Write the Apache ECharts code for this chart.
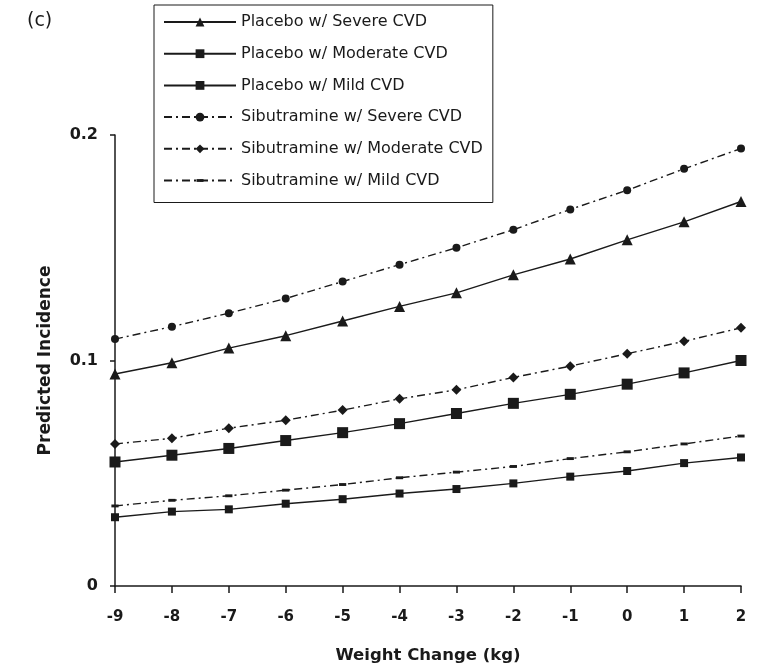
<!DOCTYPE html>
<html>
<head>
<meta charset="utf-8">
<script src="https://cdn.jsdelivr.net/npm/echarts@6/dist/echarts.min.js"></script>
<style>
  html, body { margin: 0; padding: 0; background: #fff; }
  #chart { width: 766px; height: 669px; }
</style>
</head>
<body>
<div id="chart"></div>
<script>
// weight change (kg)
const weightChange = [-9, -8, -7, -6, -5, -4, -3, -2, -1, 0, 1, 2]
const yTicks = [0, 0.1, 0.2]

const placeboSevere = [0.094, 0.099, 0.1055, 0.111, 0.1175, 0.124, 0.130, 0.138, 0.145, 0.1535, 0.1615, 0.1705]
const placeboModerate = [0.055, 0.058, 0.061, 0.0645, 0.068, 0.072, 0.0765, 0.081, 0.085, 0.0895, 0.0945, 0.100]
const placeboMild = [0.0305, 0.033, 0.034, 0.0365, 0.0385, 0.041, 0.043, 0.0455, 0.0485, 0.051, 0.0545, 0.057]
const sibSevere = [0.1095, 0.115, 0.121, 0.1275, 0.135, 0.1425, 0.150, 0.158, 0.167, 0.1755, 0.185, 0.194]
const sibModerate = [0.063, 0.0655, 0.070, 0.0735, 0.078, 0.083, 0.087, 0.0925, 0.0975, 0.103, 0.1085, 0.1145]
const sibMild = [0.0355, 0.038, 0.040, 0.0425, 0.045, 0.048, 0.0505, 0.053, 0.0565, 0.0595, 0.063, 0.0665]

const ink = '#1a1a1a'
const dashDot = [8, 4, 2, 4]
const font = 'DejaVu Sans'
// small dash marker, padded inside a square box so the legend keeps it small too
const smallDash = 'path://M0,0M10,10M1,3.4L9,3.4L9,6.6L1,6.6Z'

function pairs(vals) {
  return weightChange.map((x, i) => [x, vals[i]])
}

function mkSeries(name, vals, symbol, size, dashed) {
  return {
    name: name,
    type: 'line',
    data: pairs(vals),
    symbol: symbol,
    symbolSize: size,
    showSymbol: true,
    itemStyle: { color: ink },
    lineStyle: { color: ink, width: 1.4, type: dashed ? dashDot : 'solid' },
    animation: false
  }
}

const chart = echarts.init(document.getElementById('chart'))
chart.setOption({
  backgroundColor: '#fff',
  animation: false,
  textStyle: { fontFamily: font },
  graphic: [
    { type: 'text', left: 27, top: 12, style: { text: '(c)', font: '19px "DejaVu Sans"', fill: ink } }
  ],
  legend: {
    orient: 'vertical',
    left: 154,
    top: 5,
    padding: [9, 10, 14, 9],
    itemWidth: 72,
    itemHeight: 11,
    itemGap: 15.7,
    borderColor: ink,
    borderWidth: 1,
    textStyle: { fontSize: 16, lineHeight: 16, color: ink, fontFamily: font },
    data: ['Placebo w/ Severe CVD', 'Placebo w/ Moderate CVD', 'Placebo w/ Mild CVD',
      'Sibutramine w/ Severe CVD', 'Sibutramine w/ Moderate CVD', 'Sibutramine w/ Mild CVD']
  },
  grid: { left: 115, right: 25, top: 135, bottom: 79, containLabel: false },
  xAxis: {
    type: 'value',
    min: -9,
    max: 2,
    interval: 1,
    name: 'Weight Change (kg)',
    nameLocation: 'middle',
    nameGap: 61,
    nameTextStyle: { fontSize: 16.5, fontWeight: 'bold', color: ink, fontFamily: font },
    axisLine: { onZero: false, lineStyle: { color: ink, width: 1.5 } },
    axisTick: { length: 7, lineStyle: { color: ink, width: 1.5 } },
    axisLabel: { margin: 24, fontSize: 15, fontWeight: 'bold', color: ink, fontFamily: font },
    splitLine: { show: false }
  },
  yAxis: {
    type: 'value',
    min: yTicks[0],
    max: yTicks[yTicks.length - 1],
    interval: 0.1,
    name: 'Predicted Incidence',
    nameLocation: 'middle',
    nameGap: 61,
    nameTextStyle: { fontSize: 17, fontWeight: 'bold', color: ink, fontFamily: font },
    axisLine: { show: true, onZero: false, lineStyle: { color: ink, width: 1.5 } },
    axisTick: { show: true, length: 5, lineStyle: { color: ink, width: 1.5 } },
    axisLabel: { margin: 17, fontSize: 16, fontWeight: 'bold', color: ink, fontFamily: font },
    splitLine: { show: false }
  },
  series: [
    mkSeries('Placebo w/ Severe CVD', placeboSevere, 'triangle', 11, false),
    mkSeries('Placebo w/ Moderate CVD', placeboModerate, 'rect', 11, false),
    mkSeries('Placebo w/ Mild CVD', placeboMild, 'rect', 8, false),
    mkSeries('Sibutramine w/ Severe CVD', sibSevere, 'circle', 8, true),
    mkSeries('Sibutramine w/ Moderate CVD', sibModerate, 'diamond', 10, true),
    mkSeries('Sibutramine w/ Mild CVD', sibMild, smallDash, 9, true)
  ]
})
</script>
</body>
</html>
